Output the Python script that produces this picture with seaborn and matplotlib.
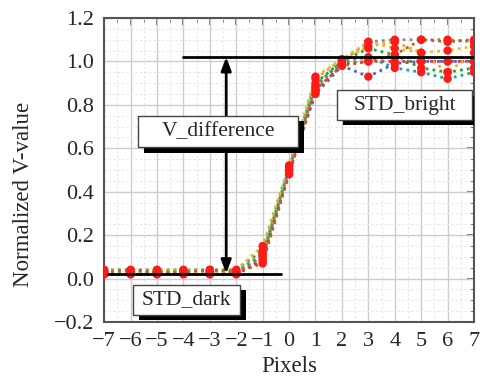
import matplotlib
matplotlib.use("Agg")
import matplotlib.pyplot as plt
import matplotlib.patheffects as pe
from matplotlib.patches import Rectangle
from matplotlib.ticker import MultipleLocator
import numpy as np
import pandas as pd
import seaborn as sns

pixels = [-7, -6, -5, -4, -3, -2, -1, 0, 1, 2, 3, 4, 5, 6, 7]
s1 = [0.03, 0.03, 0.03, 0.03, 0.03, 0.03, 0.10, 0.50, 0.88, 1.00, 1.09, 1.10, 1.10, 1.10, 1.09]
s2 = [0.02, 0.02, 0.02, 0.02, 0.02, 0.02, 0.08, 0.50, 0.85, 0.98, 0.93, 0.99, 1.00, 1.00, 1.00]
s3 = [0.04, 0.04, 0.04, 0.04, 0.04, 0.04, 0.13, 0.52, 0.90, 1.00, 1.06, 1.03, 0.97, 0.95, 0.97]
s4 = [0.03, 0.02, 0.03, 0.04, 0.03, 0.03, 0.12, 0.50, 0.92, 1.01, 1.07, 1.09, 1.04, 0.95, 1.04]
s5 = [0.02, 0.03, 0.02, 0.03, 0.03, 0.02, 0.09, 0.49, 0.86, 0.99, 1.00, 1.00, 1.00, 1.00, 1.00]
s6 = [0.03, 0.03, 0.03, 0.02, 0.04, 0.03, 0.11, 0.51, 0.89, 1.00, 1.02, 0.97, 0.95, 0.92, 0.95]
s7 = [0.04, 0.03, 0.04, 0.03, 0.02, 0.04, 0.15, 0.52, 0.93, 1.01, 1.09, 1.06, 1.04, 1.05, 1.07]
s8 = [0.03, 0.04, 0.03, 0.03, 0.04, 0.03, 0.07, 0.48, 0.87, 0.98, 1.00, 1.03, 1.10, 1.09, 1.10]
series = {"s1": s1, "s2": s2, "s3": s3, "s4": s4, "s5": s5, "s6": s6, "s7": s7, "s8": s8}
colors = ["#8c8c8c", "#3a6fc4", "#2ca02c", "#f5a623", "#e8343a", "#1fa3a3", "#e0c020", "#c06020"]

xticks = list(range(-7, 8))
yticks = [-0.2, 0.0, 0.2, 0.4, 0.6, 0.8, 1.0, 1.2]

rows = []
for name, vals in series.items():
    for xv, yv in zip(pixels, vals):
        rows.append({"x": xv, "y": yv, "series": name})
df = pd.DataFrame(rows)

sns.set_style("white")
plt.rcParams["font.family"] = ["Liberation Serif", "DejaVu Serif"]
plt.rcParams["axes.unicode_minus"] = True

fig = plt.figure(figsize=(4.8, 3.82), dpi=100)
ax = fig.add_axes([0.217, 0.157, 0.9875 - 0.217, 0.953 - 0.157])

sns.lineplot(data=df, x="x", y="y", hue="series", palette=colors, legend=False, ax=ax, lw=2)
for ln in ax.get_lines():
    ln.set_linestyle((0, (1, 1.5)))
    ln.set_zorder(3)
sns.scatterplot(data=df, x="x", y="y", color="#ff1a1a", s=36, edgecolor="none", ax=ax, zorder=4, legend=False)

ax.set_xlim(-7, 7)
ax.set_ylim(-0.2, 1.2)
ax.set_xticks(xticks)
ax.set_yticks(yticks)
ax.set_yticklabels([f"{v:.1f}".replace("-", "\u2212") for v in yticks])
ax.xaxis.set_minor_locator(MultipleLocator(0.5))
ax.yaxis.set_minor_locator(MultipleLocator(0.05))
ax.grid(True, which="major", color="#cdcdcd", lw=1, zorder=0)
ax.grid(True, which="minor", color="#e6e6e6", lw=0.8, ls=(0, (2, 2)), zorder=0)
ax.set_axisbelow(True)
for sp in ax.spines.values():
    sp.set_color("#555555")
    sp.set_linewidth(1.5)
ax.tick_params(which="major", direction="out", length=5, width=1.2, color="#555555", labelsize=16, pad=2)
ax.tick_params(which="minor", direction="out", length=3, width=1, color="#555555")
ax.set_xlabel("Pixels", fontsize=16.5, labelpad=4)
ax.set_ylabel("Normalized V-value", fontsize=16.5)
ax.yaxis.set_label_coords(-0.19, 0.42)

top = ax.secondary_xaxis("top")
top.set_xticks(xticks)
top.xaxis.set_minor_locator(MultipleLocator(0.5))
top.tick_params(which="major", direction="in", length=5, width=1.2, color="#555555", labeltop=False)
top.tick_params(which="minor", direction="in", length=3, color="#555555")
top.spines["top"].set_visible(False)
right = ax.secondary_yaxis("right")
right.set_yticks(yticks)
right.yaxis.set_minor_locator(MultipleLocator(0.05))
right.tick_params(which="major", direction="in", length=5, width=1.2, color="#555555", labelright=False)
right.tick_params(which="minor", direction="in", length=3, color="#555555")
right.spines["right"].set_visible(False)

# reference lines and arrow
ax.plot([-4.0, 7.0], [1.02, 1.02], color="black", lw=2, zorder=5)
ax.plot([-6.85, -0.3], [0.023, 0.023], color="black", lw=2, zorder=5)
ax.annotate("", xy=(-2.38, 1.02), xytext=(-2.38, 0.023),
            arrowprops=dict(arrowstyle="<|-|>,head_length=0.8,head_width=0.3", color="black", lw=2, shrinkA=0, shrinkB=0),
            zorder=6)

shadow = [pe.SimplePatchShadow(offset=(4, -4), shadow_rgbFace="black", alpha=1), pe.Normal()]
boxes = [("V_difference", -5.71, 0.606, 0.34, 0.75),
         ("STD_bright", 1.82, 0.731, 6.92, 0.866),
         ("STD_dark", -5.90, -0.167, -1.85, -0.028)]
for label, x0, y0, x1, y1 in boxes:
    r = Rectangle((x0, y0), x1 - x0, y1 - y0, facecolor="white", edgecolor="#444444", lw=1, zorder=7)
    r.set_path_effects(shadow)
    ax.add_patch(r)
    ax.text((x0 + x1) / 2, (y0 + y1) / 2, label, ha="center", va="center", fontsize=15.5, zorder=8)

fig.savefig("out.png", dpi=100)
